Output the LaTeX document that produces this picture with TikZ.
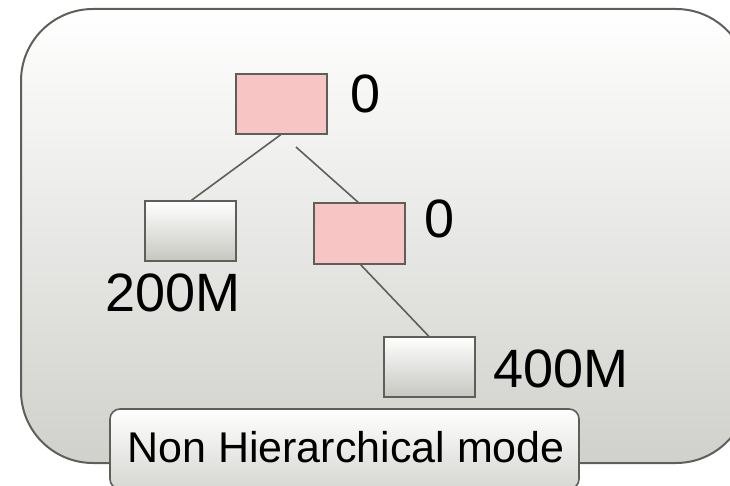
\documentclass[tikz,border=0pt]{standalone}
\usepackage{fontspec}
\setmainfont{Liberation Sans}
\definecolor{linegray}{HTML}{5E5F59}
\definecolor{panelbottom}{HTML}{D0D0CC}
\definecolor{boxbottom}{HTML}{C6C6C1}
\definecolor{zeropink}{HTML}{F8C5C5}
\definecolor{tagbottom}{HTML}{D6D6D2}
\begin{document}
\begin{tikzpicture}[x=1pt,y=-1pt,
  panel/.style={draw=linegray, line width=2pt, top color=white, bottom color=panelbottom},
  treebox/.style={draw=linegray, line width=2pt, minimum width=91pt, minimum height=60pt,
    inner sep=0pt, outer sep=0pt},
  zerobox/.style={treebox, fill=zeropink},
  sizebox/.style={treebox, top color=white, bottom color=boxbottom},
  link/.style={draw=linegray, line width=1.6pt},
  numlabel/.style={font=\fontsize{54}{62}\selectfont, inner sep=0pt, anchor=base west},
  tagbox/.style={draw=linegray, line width=1.6pt, rounded corners=10pt,
    top color=white, bottom color=tagbottom, minimum width=469pt, minimum height=80pt,
    inner sep=0pt, outer sep=0pt},
  tagtext/.style={font=\fontsize{43}{50}\selectfont, inner sep=0pt, anchor=base}
]
\useasboundingbox (0,0) rectangle (730,486);
\clip (0,0) rectangle (730,486);

% background panel, running off the right edge
\path[panel, rounded corners=72pt] (21,9) rectangle (748,463);

% tree nodes
\node[zerobox] (root) at (281,104.5) {};
\node[sizebox] (left) at (190.5,231) {};
\node[zerobox] (mid) at (359.5,233.5) {};
\node[sizebox] (low) at (429,366.5) {};

% connectors
\coordinate (rootgap) at (296,147);
\draw[link] (root.south) -- (left.north);
\draw[link] (rootgap) -- (mid.north);
\draw[link] (mid.south) -- (low.north);

% value labels
\node[numlabel] (rootval) at (350,113) {0};
\node[numlabel] (midval) at (424,237) {0};
\node[numlabel] (leftval) at (105,311) {200M};
\node[numlabel] (lowval) at (493,387) {400M};

% mode tag
\node[tagbox] (mode) at (344.5,449) {};
\node[tagtext] (modetext) at (346,462) {Non Hierarchical mode};
\end{tikzpicture}
\end{document}
